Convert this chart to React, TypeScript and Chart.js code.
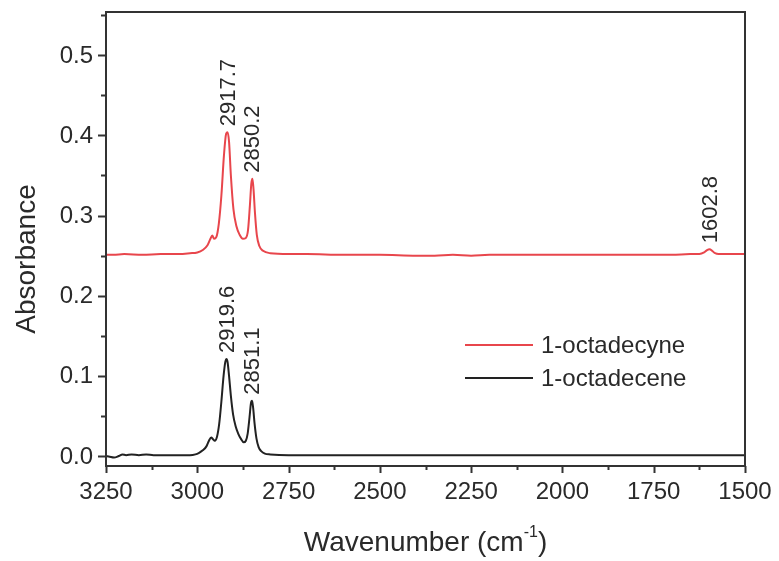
import React, { useEffect, useRef } from "react";
import { Chart, registerables } from "chart.js";

Chart.register(...registerables);

// 1-octadecyne (red) spectrum
const wnYne = [3250, 3230, 3200, 3150, 3100, 3050, 3020, 3000, 2985, 2972, 2964, 2959, 2954, 2948, 2941, 2934, 2927, 2921, 2917, 2913, 2908, 2901, 2893, 2884, 2875, 2867, 2861, 2856, 2852, 2849, 2846, 2842, 2837, 2830, 2820, 2800, 2750, 2700, 2600, 2500, 2400, 2350, 2300, 2250, 2200, 2100, 2000, 1900, 1800, 1700, 1650, 1625, 1612, 1604, 1597, 1590, 1582, 1572, 1550, 1500];
const absYne = [0.251, 0.251, 0.252, 0.251, 0.252, 0.252, 0.253, 0.254, 0.257, 0.263, 0.271, 0.275, 0.271, 0.273, 0.290, 0.325, 0.375, 0.402, 0.404, 0.392, 0.350, 0.308, 0.287, 0.276, 0.271, 0.272, 0.282, 0.312, 0.340, 0.346, 0.333, 0.303, 0.276, 0.262, 0.256, 0.253, 0.252, 0.252, 0.251, 0.251, 0.250, 0.250, 0.251, 0.250, 0.251, 0.251, 0.251, 0.251, 0.251, 0.251, 0.252, 0.252, 0.254, 0.257, 0.258, 0.256, 0.253, 0.252, 0.252, 0.252];

// 1-octadecene (black) spectrum
const wnEne = [3250, 3240, 3228, 3215, 3205, 3195, 3180, 3160, 3140, 3120, 3100, 3080, 3050, 3020, 3005, 2995, 2985, 2975, 2968, 2962, 2957, 2952, 2946, 2940, 2934, 2928, 2923, 2920, 2917, 2913, 2908, 2902, 2895, 2888, 2880, 2873, 2867, 2862, 2857, 2853, 2850, 2847, 2843, 2838, 2832, 2825, 2815, 2800, 2750, 2650, 2550, 2450, 2350, 2250, 2150, 2050, 1950, 1850, 1750, 1650, 1550, 1500];
const absEne = [0.000, -0.001, -0.002, 0.000, 0.002, 0.001, 0.002, 0.001, 0.002, 0.001, 0.001, 0.001, 0.001, 0.001, 0.002, 0.004, 0.007, 0.012, 0.019, 0.023, 0.021, 0.019, 0.024, 0.040, 0.068, 0.100, 0.118, 0.121, 0.117, 0.100, 0.075, 0.052, 0.037, 0.028, 0.021, 0.017, 0.019, 0.028, 0.048, 0.066, 0.069, 0.060, 0.040, 0.022, 0.011, 0.006, 0.003, 0.002, 0.001, 0.001, 0.001, 0.001, 0.001, 0.001, 0.001, 0.001, 0.001, 0.001, 0.001, 0.001, 0.001, 0.001];

const seriesLabels = ["1-octadecyne", "1-octadecene"];
const seriesColors = ["#e8464c", "#222222"];

// Peak annotations
const peakLabels = ["2917.7", "2850.2", "1602.8", "2919.6", "2851.1"];
const peakX = [2916, 2849, 1597, 2920, 2849];
const peakY = [0.404, 0.346, 0.258, 0.121, 0.069];

const xTickValues = [3250, 3000, 2750, 2500, 2250, 2000, 1750, 1500];
const yTickValues = [0.0, 0.1, 0.2, 0.3, 0.4, 0.5];

const FONT = "'Liberation Sans', Arial, Helvetica, sans-serif";
const TEXT = "#2a2a2a";

const decorPlugin = {
  id: "decor",
  afterDatasetsDraw(chart: any) {
    const { ctx, chartArea: a, scales } = chart;
    const xs = scales.x;
    const ys = scales.y;
    ctx.save();
    // frame
    ctx.strokeStyle = "#333";
    ctx.lineWidth = 2;
    ctx.strokeRect(a.left, a.top, a.right - a.left, a.bottom - a.top);
    // x ticks (major + minor)
    for (let v = 1500; v <= 3250; v += 125) {
      const px = Math.round(xs.getPixelForValue(v)) + 0.5;
      const major = xTickValues.includes(v);
      ctx.beginPath();
      ctx.moveTo(px, a.bottom);
      ctx.lineTo(px, a.bottom + (major ? 7 : 4));
      ctx.stroke();
    }
    for (let i = 0; i <= 11; i++) {
      const v = i * 0.05;
      const py = Math.round(ys.getPixelForValue(v)) + 0.5;
      const major = i % 2 === 0;
      ctx.beginPath();
      ctx.moveTo(a.left, py);
      ctx.lineTo(a.left - (major ? 8 : 5), py);
      ctx.stroke();
    }
    // tick labels
    ctx.fillStyle = TEXT;
    ctx.font = `24px ${FONT}`;
    ctx.textAlign = "center";
    ctx.textBaseline = "middle";
    xTickValues.forEach((v) => {
      ctx.fillText(String(v), xs.getPixelForValue(v), a.bottom + 26);
    });
    ctx.textAlign = "right";
    yTickValues.forEach((v) => {
      ctx.fillText(v.toFixed(1), a.left - 13, ys.getPixelForValue(v) + 1);
    });
    // peak labels
    ctx.font = `22px ${FONT}`;
    ctx.textAlign = "left";
    ctx.textBaseline = "middle";
    peakLabels.forEach((t, i) => {
      const px = xs.getPixelForValue(peakX[i]);
      const py = ys.getPixelForValue(peakY[i]);
      ctx.save();
      ctx.translate(px + 1, py - 6);
      ctx.rotate(-Math.PI / 2);
      ctx.fillText(t, 0, 0);
      ctx.restore();
    });
    // legend
    const legX = 465, legY = [345, 378];
    chart.data.datasets.forEach((ds: any, i: number) => {
      ctx.strokeStyle = ds.borderColor;
      ctx.lineWidth = 2;
      ctx.beginPath();
      ctx.moveTo(legX, legY[i]);
      ctx.lineTo(legX + 68, legY[i]);
      ctx.stroke();
      ctx.fillStyle = TEXT;
      ctx.font = `24px ${FONT}`;
      ctx.textAlign = "left";
      ctx.textBaseline = "middle";
      ctx.fillText(ds.label, legX + 76, legY[i] + 1);
    });
    // y title
    ctx.save();
    ctx.translate(27, 259);
    ctx.rotate(-Math.PI / 2);
    ctx.font = `28px ${FONT}`;
    ctx.textAlign = "center";
    ctx.textBaseline = "middle";
    ctx.fillStyle = TEXT;
    ctx.fillText("Absorbance", 0, 0);
    ctx.restore();
    // x title with superscript
    ctx.font = `28px ${FONT}`;
    ctx.textBaseline = "alphabetic";
    ctx.textAlign = "left";
    const p1 = "Wavenumber (cm";
    const w1 = ctx.measureText(p1).width;
    ctx.font = `16px ${FONT}`;
    const sup = "-1";
    const ws = ctx.measureText(sup).width;
    ctx.font = `28px ${FONT}`;
    const w2 = ctx.measureText(")").width;
    const total = w1 + ws + w2;
    const cx = (a.left + a.right) / 2;
    const x0 = cx - total / 2;
    const base = 551;
    ctx.fillText(p1, x0, base);
    ctx.font = `16px ${FONT}`;
    ctx.fillText(sup, x0 + w1, base - 14);
    ctx.font = `28px ${FONT}`;
    ctx.fillText(")", x0 + w1 + ws, base);
    ctx.restore();
  },
};

export default function App() {
  const ref = useRef<HTMLCanvasElement | null>(null);
  useEffect(() => {
    if (!ref.current) return;
    const chart = new Chart(ref.current, {
      type: "line",
      data: {
        datasets: [
          {
            label: seriesLabels[0],
            data: wnYne.map((x, i) => ({ x, y: absYne[i] })),
            borderColor: seriesColors[0],
            borderWidth: 2,
            pointRadius: 0,
            cubicInterpolationMode: "monotone",
            fill: false,
          },
          {
            label: seriesLabels[1],
            data: wnEne.map((x, i) => ({ x, y: absEne[i] })),
            borderColor: seriesColors[1],
            borderWidth: 2,
            pointRadius: 0,
            cubicInterpolationMode: "monotone",
            fill: false,
          },
        ],
      },
      options: {
        animation: false,
        responsive: false,
        layout: { padding: { top: 12, right: 34, left: 0, bottom: 0 } },
        plugins: { legend: { display: false }, tooltip: { enabled: false } },
        scales: {
          x: {
            type: "linear",
            reverse: true,
            min: 1500,
            max: 3250,
            afterFit: (s: any) => {
              s.height = 95;
            },
            grid: { display: false, drawTicks: false },
            border: { display: false },
            ticks: { display: false },
          },
          y: {
            type: "linear",
            min: -0.0125,
            max: 0.554,
            afterFit: (s: any) => {
              s.width = 106;
            },
            grid: { display: false, drawTicks: false },
            border: { display: false },
            ticks: { display: false },
          },
        },
      },
      plugins: [decorPlugin],
    });
    return () => chart.destroy();
  }, []);
  return (
    <div style={{ position: "absolute", left: 0, top: 0, width: 779, height: 561, background: "#fff" }}>
      <canvas ref={ref} width={779} height={561} style={{ width: 779, height: 561 }} />
    </div>
  );
}
